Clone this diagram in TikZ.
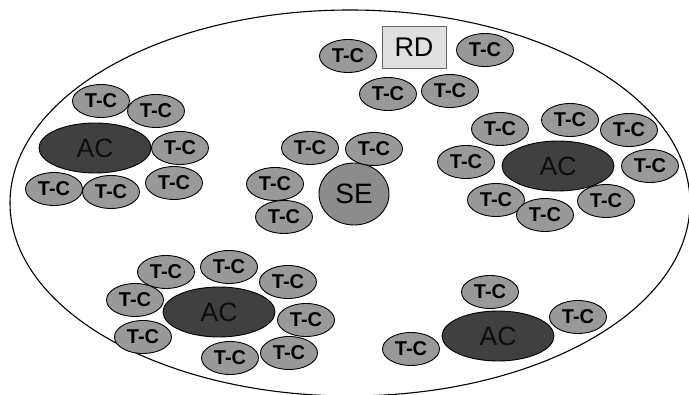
\documentclass[tikz,border=0pt]{standalone}
\usepackage{fontspec}
\setmainfont{Liberation Sans}
\usetikzlibrary{shapes.geometric}
\definecolor{tcgray}{HTML}{999999}
\definecolor{acdark}{HTML}{404040}
\definecolor{segray}{HTML}{8C8C8C}
\definecolor{rdfill}{HTML}{E0E0E0}
\tikzset{
  tc/.style={ellipse, draw=black, line width=0.9pt, fill=tcgray,
    minimum width=57pt, minimum height=33pt, inner sep=0pt,
    font=\fontsize{20}{20}\selectfont\bfseries, text=black},
  ac/.style={ellipse, draw=black, line width=0.9pt, fill=acdark,
    minimum width=112pt, minimum height=50pt, inner sep=0pt,
    font=\fontsize{26.5}{26.5}\selectfont, text=black!95},
  se/.style={ellipse, draw=black, line width=0.9pt, fill=segray,
    minimum width=70pt, minimum height=62pt, inner sep=0pt,
    font=\fontsize{28}{28}\selectfont, text=black},
  rd/.style={rectangle, draw=black!60, line width=0.9pt, fill=rdfill,
    minimum width=64pt, minimum height=42pt, inner sep=0pt,
    font=\fontsize{27}{27}\selectfont, text=black},
  region/.style={draw=black, line width=1.1pt}
}
\begin{document}
\begin{tikzpicture}[x=1pt,y=-1pt]
\useasboundingbox (0,0) rectangle (689,395);
\begin{scope}
\clip (0,0) rectangle (689,395);
% enclosing region
\draw[region] (350,203) ellipse [x radius=340, y radius=193];
\end{scope}

% RD with its cells
\node[rd] (rd) at (414,47) {RD};
\node[tc] (r1) at (348,56) {T-C};
\node[tc] (r2) at (485,50) {T-C};
\node[tc] (r3) at (388,94) {T-C};
\node[tc] (r4) at (450,91) {T-C};

% upper-left AC cluster
\node[ac] (ac1) at (95,148) {AC};
\node[tc] (a1) at (101,101) {T-C};
\node[tc] (a2) at (156,111) {T-C};
\node[tc] (a3) at (180,148) {T-C};
\node[tc] (a4) at (174,183) {T-C};
\node[tc] (a5) at (54,189) {T-C};
\node[tc] (a6) at (111,192) {T-C};

% SE cluster
\node[se] (se) at (354,194) {SE};
\node[tc] (s1) at (310,148) {T-C};
\node[tc] (s2) at (374,149) {T-C};
\node[tc] (s3) at (275,184) {T-C};
\node[tc] (s4) at (284,217) {T-C};

% right AC cluster
\node[ac] (ac2) at (558,166) {AC};
\node[tc] (b1) at (500,129) {T-C};
\node[tc] (b2) at (570,120) {T-C};
\node[tc] (b3) at (629,130) {T-C};
\node[tc] (b4) at (466,162) {T-C};
\node[tc] (b5) at (650,166) {T-C};
\node[tc] (b6) at (496,200) {T-C};
\node[tc] (b8) at (606,201) {T-C};
\node[tc] (b7) at (545,215) {T-C};

% lower-left AC cluster
\node[ac] (ac3) at (219,312) {AC};
\node[tc] (c1) at (166,272) {T-C};
\node[tc] (c2) at (229,267) {T-C};
\node[tc] (c3) at (288,282) {T-C};
\node[tc] (c4) at (135,300) {T-C};
\node[tc] (c5) at (306,320) {T-C};
\node[tc] (c6) at (143,337) {T-C};
\node[tc] (c7) at (230,358) {T-C};
\node[tc] (c8) at (289,353) {T-C};

% lower-right AC cluster
\node[ac] (ac4) at (498,336) {AC};
\node[tc] (d1) at (490,292) {T-C};
\node[tc] (d2) at (578,317) {T-C};
\node[tc] (d3) at (411,349) {T-C};
\end{tikzpicture}
\end{document}
